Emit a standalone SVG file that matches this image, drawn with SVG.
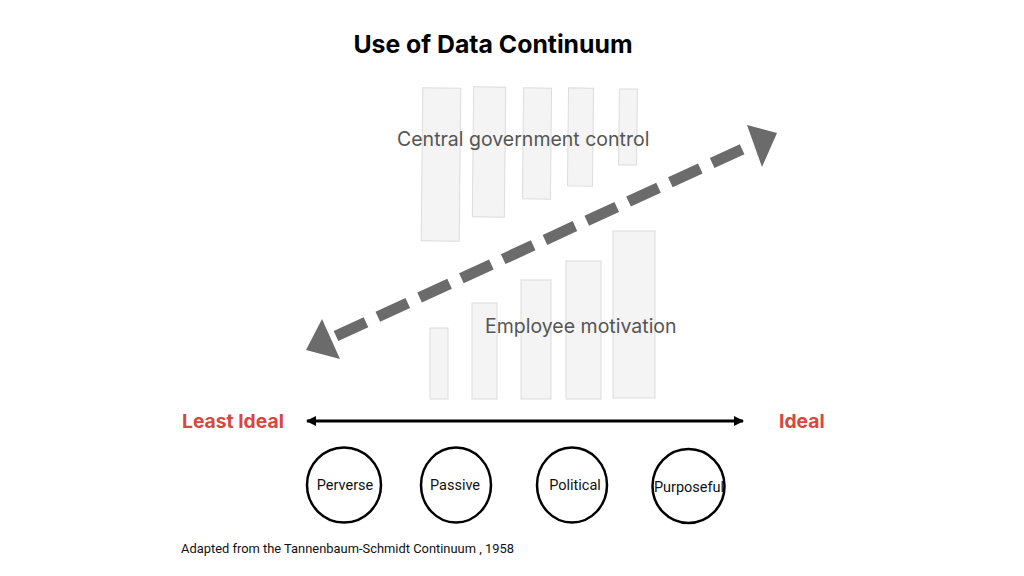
<svg xmlns="http://www.w3.org/2000/svg" width="1024" height="576" viewBox="0 0 1024 576">
<style>
.bar{fill:#f4f4f4;stroke:#dcdcdc;stroke-width:1}
.lbl{font-family:Inter,"Liberation Sans",sans-serif;font-size:19.5px;fill:#555}
.end{font-family:Inter,"Liberation Sans",sans-serif;font-size:19.3px;font-weight:700;fill:#d9463f}
.node{fill:#fff;stroke:#000;stroke-width:2.5}
.nt{font-family:Roboto,"Liberation Sans",sans-serif;font-size:14.5px;fill:#111;text-anchor:middle}
</style>
<defs>
<marker id="bh" viewBox="0 0 10 10" refX="9" refY="5" markerWidth="3.4" markerHeight="3.4" orient="auto-start-reverse" markerUnits="strokeWidth">
<path d="M0,0 L10,5 L0,10 Z" fill="#000"/>
</marker>
</defs>
<rect width="1024" height="576" fill="#fff"/>
<text x="493" y="53" text-anchor="middle" font-family="Inter,'Liberation Sans',sans-serif" font-size="24.8" font-weight="700" fill="#000">Use of Data Continuum</text>
<g id="bars-top">
<rect class="bar" x="422" y="88" width="38" height="153" transform="rotate(0.6 441 164)"/>
<rect class="bar" x="473" y="87" width="32" height="130" transform="rotate(0.6 489 152)"/>
<rect class="bar" x="523" y="88" width="28" height="111" transform="rotate(0.6 537 143)"/>
<rect class="bar" x="568" y="88" width="25" height="98" transform="rotate(0.6 580 137)"/>
<rect class="bar" x="619" y="89" width="18" height="76" transform="rotate(0.6 628 127)"/>
</g>
<g id="bars-bottom">
<rect class="bar" x="430" y="328" width="18" height="71"/>
<rect class="bar" x="472" y="303" width="25" height="96"/>
<rect class="bar" x="521" y="280" width="30" height="119"/>
<rect class="bar" x="566" y="261" width="35" height="138"/>
<rect class="bar" x="613" y="231" width="42" height="167"/>
</g>
<text id="central" class="lbl" x="397" y="146">Central government control</text>
<text id="employee" class="lbl" x="485" y="333">Employee motivation</text>
<g id="connectors">
<line x1="336" y1="336" x2="747" y2="147" stroke="#6b6b6b" stroke-width="11" stroke-dasharray="33 13"/>
<polygon points="306,350 322,319 340,359" fill="#6b6b6b"/>
<polygon points="777,133 747,125 762,167" fill="#6b6b6b"/>
<line x1="307" y1="421" x2="743" y2="421" stroke="#000" stroke-width="3" marker-start="url(#bh)" marker-end="url(#bh)"/>
</g>
<text id="least" class="end" x="182" y="428">Least Ideal</text>
<text id="ideal" class="end" x="779" y="428">Ideal</text>
<g id="perverse"><ellipse class="node" cx="344" cy="485" rx="37" ry="37.5"/><text class="nt" x="345" y="490">Perverse</text></g>
<g id="passive"><ellipse class="node" cx="456" cy="485" rx="35" ry="37.5"/><text class="nt" x="455" y="490">Passive</text></g>
<g id="political"><ellipse class="node" cx="572" cy="485" rx="35" ry="37.5"/><text class="nt" x="575" y="490">Political</text></g>
<g id="purposeful"><ellipse class="node" cx="688.5" cy="486" rx="36" ry="37"/><text class="nt" x="689" y="492" font-size="12.8">Purposeful</text></g>
<text x="181" y="553" font-family="Roboto,'Liberation Sans',sans-serif" font-size="12.9" fill="#111">Adapted from the Tannenbaum-Schmidt Continuum , 1958</text>
</svg>
